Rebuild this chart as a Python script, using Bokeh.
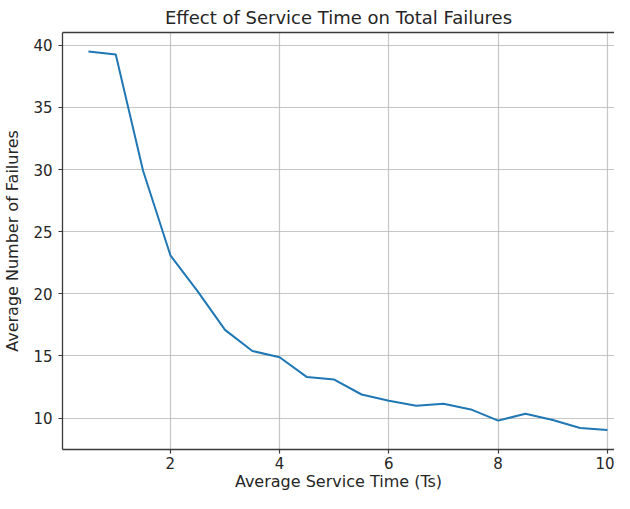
from bokeh.plotting import figure
from bokeh.models import LinearAxis, FixedTicker, Range1d
from bokeh.embed import file_html
from bokeh.resources import INLINE

service_time = [0.5, 1.0, 1.5, 2.0, 2.5, 3.0, 3.5, 4.0, 4.5, 5.0,
                5.5, 6.0, 6.5, 7.0, 7.5, 8.0, 8.5, 9.0, 9.5, 10.0]
avg_failures = [39.5, 39.25, 29.9, 23.1, 20.2, 17.1, 15.4, 14.9, 13.3, 13.1,
                11.9, 11.4, 11.0, 11.15, 10.7, 9.8, 10.35, 9.85, 9.2, 9.05]
x_ticks = [2, 4, 6, 8, 10]
y_ticks = [10, 15, 20, 25, 30, 35, 40]

FONT = "DejaVu Sans"
INK = "#262626"

p = figure(width=614, height=493, output_backend="svg", toolbar_location=None,
           x_range=Range1d(0.025, 10.13), y_range=Range1d(7.475, 41.025),
           x_axis_location="below", y_axis_location="left")
p.min_border_left = 57
p.min_border_top = 22
p.min_border_right = 0
p.min_border_bottom = 36
p.outline_line_color = None
p.background_fill_color = "white"
p.border_fill_color = "white"

p.title.text = "Effect of Service Time on Total Failures"
p.title.align = "center"
p.title.text_font = FONT
p.title.text_font_size = "18px"
p.title.text_font_style = "normal"
p.title.text_color = INK
p.title.offset = 0
p.title.standoff = 9

p.line(service_time, avg_failures, line_color="#1f77b4", line_width=2)

for ax in (p.xaxis[0], p.yaxis[0]):
    ax.axis_line_color = "#3a3a3a"
    ax.axis_line_width = 1.3
    ax.major_tick_line_color = "#3a3a3a"
    ax.major_tick_line_width = 1.2
    ax.major_tick_in = 0
    ax.major_tick_out = 4
    ax.minor_tick_line_color = None
    ax.major_label_text_font = FONT
    ax.major_label_text_font_size = "15px"
    ax.major_label_text_color = INK
    ax.axis_label_text_font = FONT
    ax.axis_label_text_font_size = "16px"
    ax.axis_label_text_font_style = "normal"
    ax.axis_label_text_color = INK

p.xaxis[0].ticker = FixedTicker(ticks=x_ticks)
p.yaxis[0].ticker = FixedTicker(ticks=y_ticks)
p.xaxis[0].axis_label = "Average Service Time (Ts)"
p.yaxis[0].axis_label = "Average Number of Failures"
p.xaxis[0].axis_label_standoff = 0
p.yaxis[0].axis_label_standoff = 8
p.xaxis[0].major_label_standoff = 3
p.yaxis[0].major_label_standoff = 6

top = LinearAxis(ticker=FixedTicker(ticks=[]), major_label_text_font_size="0px",
                 axis_line_color="#3a3a3a", axis_line_width=1.3,
                 major_tick_line_color=None, minor_tick_line_color=None)
p.add_layout(top, "above")

p.xgrid[0].ticker = FixedTicker(ticks=x_ticks)
p.ygrid[0].ticker = FixedTicker(ticks=y_ticks)
for g in (p.xgrid[0], p.ygrid[0]):
    g.grid_line_color = "#b8b8b8"
    g.grid_line_alpha = 0.8
    g.grid_line_width = 1.2

open("out.html", "w").write(file_html(p, INLINE))
